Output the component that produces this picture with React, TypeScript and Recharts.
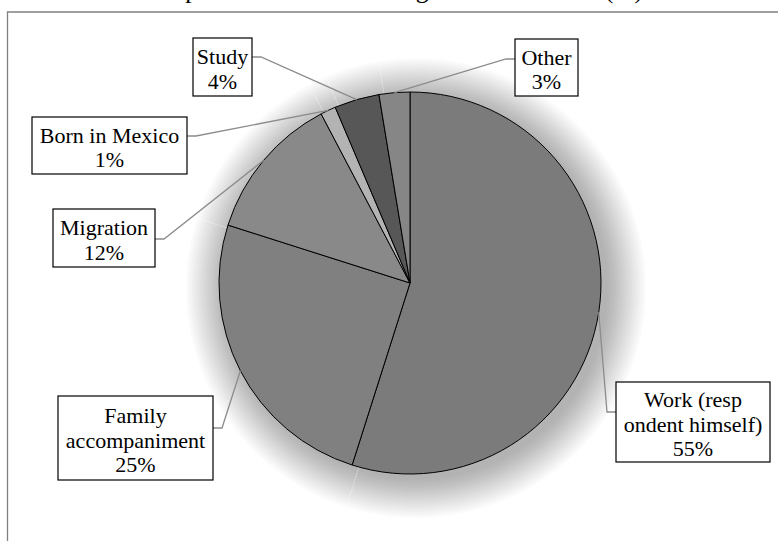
import React from 'react';
import { PieChart, Pie, Cell } from 'recharts';

const reasons = ['Work (respondent himself)', 'Family accompaniment', 'Migration', 'Born in Mexico', 'Study', 'Other'];
const shares = [54.9, 25.0, 12.4, 1.3, 3.8, 2.6];
// the source chart wraps the work label mid-word, keep it that way
const labelText = [['Work (resp', 'ondent himself)'], ['Family', 'accompaniment'], ['Migration'], ['Born in Mexico'], ['Study'], ['Other']];
const titleText = "Respondents' reason of migration to Mexico (%)";

const sliceColors = ['#7b7b7b', '#808080', '#898989', '#b3b3b3', '#575757', '#868686'];

const data = reasons.map((name, i) => ({ name, value: shares[i] }));

// where Excel dropped each label box (page px), ay = leader attach height
const boxes = [
  { x: 616, y: 382, w: 154, h: 80, ay: 412, side: 'left' },
  { x: 58, y: 396, w: 155, h: 84, ay: 428, side: 'right' },
  { x: 53, y: 209, w: 102, h: 58, ay: 239, side: 'right' },
  { x: 32, y: 117, w: 155, h: 57, ay: 136, side: 'right' },
  { x: 193, y: 38, w: 59, h: 58, ay: 57, side: 'right' },
  { x: 515, y: 39, w: 63, h: 57, ay: 59, side: 'left' },
];

// soft shadow = stacked faint discs (no filters)
const shadowRadii = Array.from({ length: 20 }, (_, i) => 192 + i * 2);

const serif = '"Liberation Serif", "Times New Roman", serif';
const RAD = Math.PI / 180;

const renderLabel = (props: any) => {
  const { cx, cy, midAngle, outerRadius, percent, index } = props;
  const b = boxes[index];
  const ex = cx + outerRadius * Math.cos(-midAngle * RAD);
  const ey = cy + outerRadius * Math.sin(-midAngle * RAD);
  const ax = b.side === 'left' ? b.x : b.x + b.w;
  const kx = b.side === 'left' ? ax - 9 : ax + 9;
  const lines = [...labelText[index], `${Math.round(percent * 100)}%`];
  const lh = 24.5;
  const top = b.y + b.h / 2 - (lines.length * lh) / 2;
  return (
    <g key={`lbl-${index}`}>
      <polyline points={`${ex},${ey} ${kx},${b.ay} ${ax},${b.ay}`} fill="none" stroke="#8c8c8c" strokeWidth={1.3} />
      <rect x={b.x} y={b.y} width={b.w} height={b.h} fill="#fff" stroke="#000" strokeWidth={1.2} />
      <text textAnchor="middle" fill="#000" style={{ fontFamily: serif, fontSize: 22 }}>
        {lines.map((l, i) => (
          <tspan key={i} x={b.x + b.w / 2} y={top + lh * i + lh / 2 + 9.5}>{l}</tspan>
        ))}
      </text>
    </g>
  );
};

const App: React.FC = () => {
  return (
    <div style={{ position: 'absolute', left: 0, top: 0, width: 778, height: 541, overflow: 'hidden', background: '#fff' }}>
      <svg width={778} height={541} style={{ position: 'absolute', left: 0, top: 0 }}>
        <text x={147} y={-2.5} style={{ fontFamily: serif, fontSize: 25.5 }} fill="#000">{titleText}</text>
        <polyline points="7.5,560 7.5,12 800,12" fill="none" stroke="#808080" strokeWidth={1.3} />
      </svg>
      <div style={{ position: 'absolute', left: 0, top: 0 }}>
        <PieChart width={778} height={541} margin={{ top: 0, right: 0, bottom: 0, left: 0 }}>
          {shadowRadii.map((r) => (
            <Pie
              key={r}
              data={data}
              dataKey="value"
              cx={416}
              cy={288}
              outerRadius={r}
              startAngle={90}
              endAngle={-270}
              fill="#000"
              fillOpacity={0.0145}
              stroke="transparent"
              labelLine={false}
              isAnimationActive={false}
            />
          ))}
        </PieChart>
      </div>
      <div style={{ position: 'absolute', left: 0, top: 0 }}>
        <PieChart width={778} height={541} margin={{ top: 0, right: 0, bottom: 0, left: 0 }}>
          <Pie
            data={data}
            dataKey="value"
            nameKey="name"
            cx={410}
            cy={283}
            outerRadius={191}
            startAngle={90}
            endAngle={-270}
            stroke="#000"
            strokeWidth={1}
            label={renderLabel}
            labelLine={false}
            isAnimationActive={false}
          >
            {data.map((d, i) => (
              <Cell key={d.name} fill={sliceColors[i]} />
            ))}
          </Pie>
        </PieChart>
      </div>
    </div>
  );
};

export default App;
